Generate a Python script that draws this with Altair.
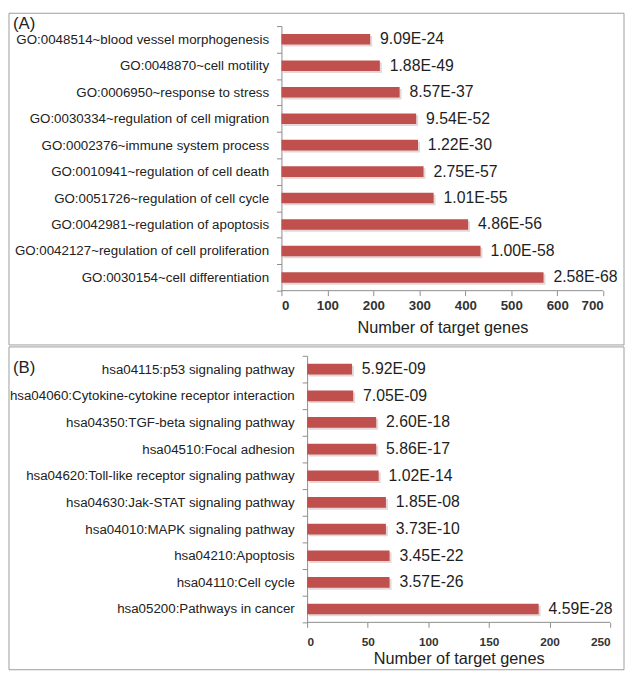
import altair as alt
import pandas as pd

# ---------------- data ----------------
go_terms = [
    "GO:0048514~blood vessel morphogenesis",
    "GO:0048870~cell motility",
    "GO:0006950~response to stress",
    "GO:0030334~regulation of cell migration",
    "GO:0002376~immune system process",
    "GO:0010941~regulation of cell death",
    "GO:0051726~regulation of cell cycle",
    "GO:0042981~regulation of apoptosis",
    "GO:0042127~regulation of cell proliferation",
    "GO:0030154~cell differentiation",
]
go_counts = [193, 214, 257, 293, 297, 309, 331, 406, 433, 570]
go_pvalues = ["9.09E-24", "1.88E-49", "8.57E-37", "9.54E-52", "1.22E-30",
              "2.75E-57", "1.01E-55", "4.86E-56", "1.00E-58", "2.58E-68"]

kegg_terms = [
    "hsa04115:p53 signaling pathway",
    "hsa04060:Cytokine-cytokine receptor interaction",
    "hsa04350:TGF-beta signaling pathway",
    "hsa04510:Focal adhesion",
    "hsa04620:Toll-like receptor signaling pathway",
    "hsa04630:Jak-STAT signaling pathway",
    "hsa04010:MAPK signaling pathway",
    "hsa04210:Apoptosis",
    "hsa04110:Cell cycle",
    "hsa05200:Pathways in cancer",
]
kegg_counts = [37, 38, 57, 57, 59, 65, 65, 68, 68, 191]
kegg_pvalues = ["5.92E-09", "7.05E-09", "2.60E-18", "5.86E-17", "1.02E-14",
                "1.85E-08", "3.73E-10", "3.45E-22", "3.57E-26", "4.59E-28"]

go_ticks = [0, 100, 200, 300, 400, 500, 600, 700]
kegg_ticks = [0, 50, 100, 150, 200, 250]

FONT = "Liberation Sans"
BAR = "#C0504D"
SHADOW = "#E3D7D7"
FRAME = "#9C9C9C"
AXIS = "#8C8C8C"


def panel(terms, counts, pvals, ticks, w, h, x0, tag, frame, tag_xy,
          tick_font, label_pad, title_y):
    """x0: pixel where the value axis starts inside the panel's plot area."""
    df = pd.DataFrame({"term": terms, "count": counts, "p": pvals})
    base = alt.Chart(df)
    y = alt.Y(
        "term:N", sort=terms,
        scale=alt.Scale(paddingInner=0, paddingOuter=0),
        axis=alt.Axis(title=None, labelFont=FONT, labelFontSize=13.5,
                      labelColor="#222222", labelPadding=8, tickSize=5,
                      tickColor=AXIS, domainColor=AXIS, tickBand="extent",
                      labelLimit=400, grid=False, offset=-x0),
    )
    x = alt.X(
        "count:Q",
        scale=alt.Scale(domain=[ticks[0], ticks[-1]], nice=False,
                        range=[x0, w]),
        axis=alt.Axis(values=ticks, title="Number of target genes",
                      titleFont=FONT, titleFontSize=16.5,
                      titleFontWeight="normal", titleColor="#222222",
                      titleY=title_y, titleX=(x0 + w) / 2,
                      titleBaseline="middle", titleAlign="center",
                      labelFont=FONT, labelFontSize=tick_font,
                      labelFontWeight="bold", labelColor="#333333",
                      labelPadding=label_pad, tickSize=5, tickColor=AXIS,
                      domain=False, grid=False),
    )
    deco = alt.Chart(pd.DataFrame({"k": [0]}))
    box = deco.mark_rect(fillOpacity=0, stroke=FRAME, strokeWidth=1).encode(
        x=alt.value(frame[0]), x2=alt.value(frame[1]),
        y=alt.value(frame[2]), y2=alt.value(frame[3]))
    baseline = deco.mark_rule(color=AXIS, strokeWidth=1).encode(
        x=alt.value(x0), x2=alt.value(w), y=alt.value(h))
    label = deco.mark_text(
        text=tag, font=FONT, fontSize=17, align="left", baseline="middle",
        color="#222222"
    ).encode(x=alt.value(tag_xy[0]), y=alt.value(tag_xy[1]))
    shadow = base.mark_bar(color=SHADOW, height={"band": 0.4},
                           xOffset=2, x2Offset=2, yOffset=2, y2Offset=2
                           ).encode(x=x, y=y)
    bars = base.mark_bar(color=BAR, height={"band": 0.4}).encode(x=x, y=y)
    texts = base.mark_text(align="left", baseline="middle", dx=10, font=FONT,
                           fontSize=16, color="#1e1e1e").encode(
        x="count:Q", y=alt.Y("term:N", sort=terms), text="p:N")
    return alt.layer(box, label, shadow, bars, baseline, texts).properties(
        width=w, height=h)


# both panels share the same plot-area origin (x = 284 in the page);
# panel B's value axis starts 26 px further right.
panel_a = panel(go_terms, go_counts, go_pvalues, go_ticks, 326, 268, 0,
                "(A)", (-276, 347, -13, 323), (-272, -2), 13.5, 3, 37)
panel_b = panel(kegg_terms, kegg_counts, kegg_pvalues, kegg_ticks, 333, 270,
                26, "(B)", (-276, 347, -9, 318), (-272, 12), 12, 9, 37)

chart = alt.ConcatChart(
    concat=[panel_a, panel_b], columns=1, spacing=0,
    bounds="full", padding=0,
).configure_view(strokeWidth=0)

chart.save("out.html", embed_options={"renderer": "svg", "actions": False})
